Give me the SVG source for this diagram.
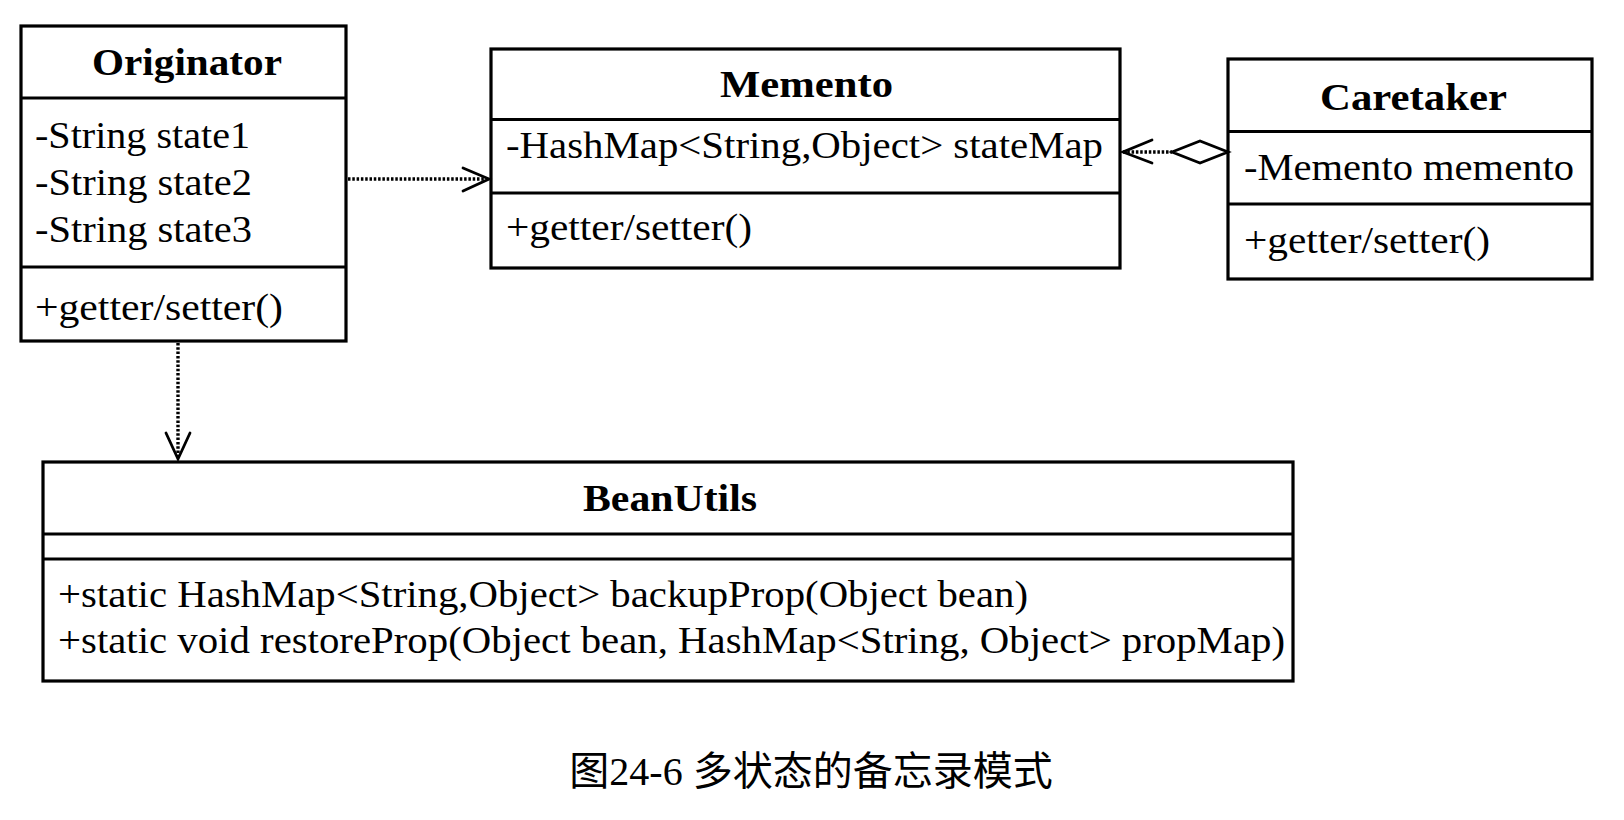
<svg xmlns="http://www.w3.org/2000/svg" width="1624" height="820" viewBox="0 0 1624 820">
  <style>
    .box { fill: #ffffff; stroke: #000000; stroke-width: 3.2; }
    .div { stroke: #000000; stroke-width: 3.2; fill: none; }
    .t { font-family: "Liberation Serif", "Tinos", "Times New Roman", "Times", "Nimbus Roman", "Nimbus Roman No9 L", "FreeSerif", "Noto Serif", serif; }
    .title { font-weight: bold; font-size: 37px; fill: #000; }
    .txt { font-size: 37px; fill: #000; }
    .dep { stroke: #000; stroke-width: 3.4; stroke-dasharray: 2.5 1.8; fill: none; }
    .arm { stroke: #000; stroke-width: 2.8; fill: none; stroke-linecap: round; stroke-linejoin: miter; }
    .cap { font-family: "Liberation Serif", "Tinos", "Times New Roman", "Noto Serif", "Noto Sans CJK SC", serif; font-size: 40px; fill: #000; }
  </style>
  <rect x="0" y="0" width="1624" height="820" fill="#ffffff"/>

  <g id="originator" class="t">
    <rect class="box" x="21" y="26" width="325" height="315"/>
    <line class="div" x1="21" y1="98" x2="346" y2="98"/>
    <line class="div" x1="21" y1="267" x2="346" y2="267"/>
    <text class="title" x="92" y="75" textLength="190" lengthAdjust="spacingAndGlyphs">Originator</text>
    <text class="txt" x="35" y="148" textLength="215" lengthAdjust="spacingAndGlyphs">-String state1</text>
    <text class="txt" x="35" y="195" textLength="217" lengthAdjust="spacingAndGlyphs">-String state2</text>
    <text class="txt" x="35" y="242" textLength="217" lengthAdjust="spacingAndGlyphs">-String state3</text>
    <text class="txt" x="35" y="320" textLength="248" lengthAdjust="spacingAndGlyphs">+getter/setter()</text>
  </g>

  <g id="memento" class="t">
    <rect class="box" x="491" y="49" width="629" height="219"/>
    <line class="div" x1="491" y1="119.5" x2="1120" y2="119.5"/>
    <line class="div" x1="491" y1="193" x2="1120" y2="193"/>
    <text class="title" x="720" y="97" textLength="173" lengthAdjust="spacingAndGlyphs">Memento</text>
    <text class="txt" x="506" y="158" textLength="597" lengthAdjust="spacingAndGlyphs">-HashMap&lt;String,Object&gt; stateMap</text>
    <text class="txt" x="506" y="240" textLength="246" lengthAdjust="spacingAndGlyphs">+getter/setter()</text>
  </g>

  <g id="caretaker" class="t">
    <rect class="box" x="1228" y="59" width="364" height="220"/>
    <line class="div" x1="1228" y1="131.5" x2="1592" y2="131.5"/>
    <line class="div" x1="1228" y1="204" x2="1592" y2="204"/>
    <text class="title" x="1320" y="110" textLength="187" lengthAdjust="spacingAndGlyphs">Caretaker</text>
    <text class="txt" x="1244" y="180" textLength="330" lengthAdjust="spacingAndGlyphs">-Memento memento</text>
    <text class="txt" x="1244" y="253" textLength="246" lengthAdjust="spacingAndGlyphs">+getter/setter()</text>
  </g>

  <g id="beanutils" class="t">
    <rect class="box" x="43" y="462" width="1250" height="219"/>
    <line class="div" x1="43" y1="534" x2="1293" y2="534"/>
    <line class="div" x1="43" y1="559" x2="1293" y2="559"/>
    <text class="title" x="583" y="511" textLength="174" lengthAdjust="spacingAndGlyphs">BeanUtils</text>
    <text class="txt" x="58" y="607" textLength="970" lengthAdjust="spacingAndGlyphs">+static HashMap&lt;String,Object&gt; backupProp(Object bean)</text>
    <text class="txt" x="58" y="653" textLength="1227" lengthAdjust="spacingAndGlyphs">+static void restoreProp(Object bean, HashMap&lt;String, Object&gt; propMap)</text>
  </g>

  <g id="connectors">
    <line class="dep" x1="348" y1="179" x2="487" y2="179"/>
    <polyline class="arm" points="463,168 489,179 463,191"/>
    <line class="dep" x1="178" y1="343" x2="178" y2="458"/>
    <polyline class="arm" points="166,433 178,459 190,433"/>
    <line class="dep" x1="1123" y1="152" x2="1172" y2="152"/>
    <polyline class="arm" points="1152,140 1123,152 1152,163"/>
    <polygon class="arm" fill="#ffffff" points="1172,152 1200,141 1228,152 1200,163"/>
  </g>

  <g id="caption">
    <text class="cap" x="811" y="785" text-anchor="middle">图24-6 多状态的备忘录模式</text>
  </g>
</svg>
